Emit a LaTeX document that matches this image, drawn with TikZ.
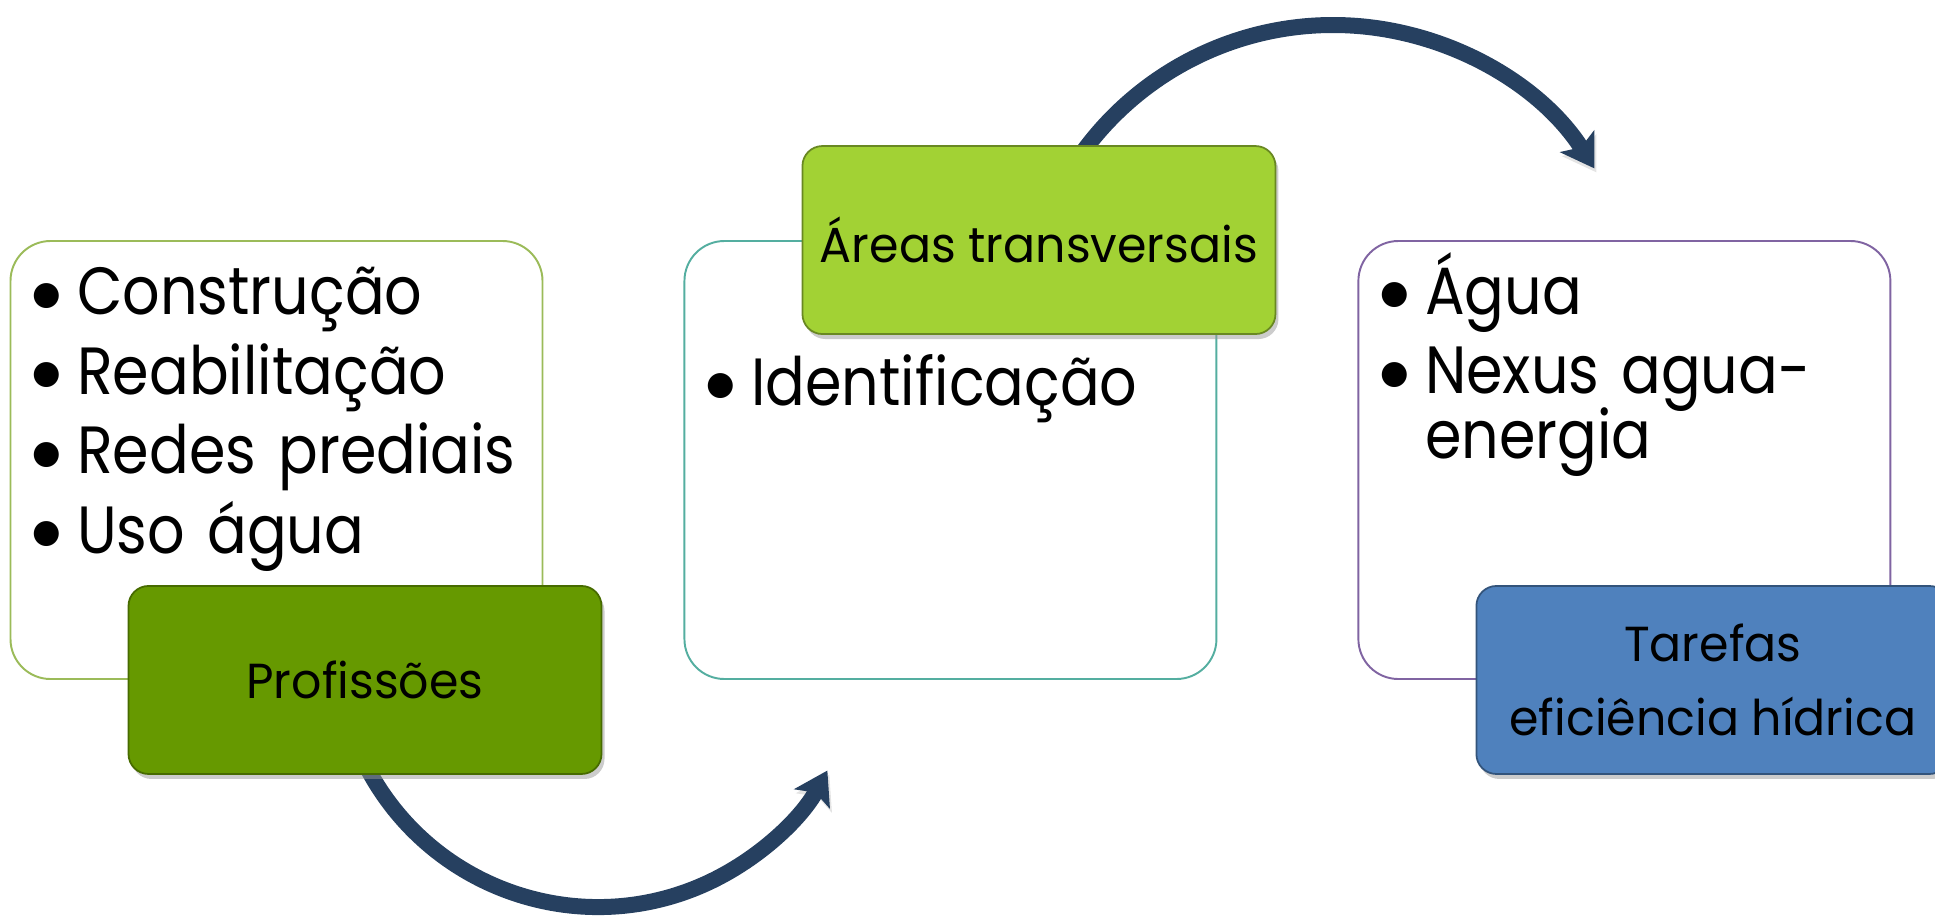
\documentclass[tikz,border=0pt]{standalone}
\usepackage{fontspec}
\setmainfont{Poppins}
\newfontfamily\itemfont[FakeStretch=0.88]{Poppins}
\newfontfamily\tagfont[FakeStretch=0.965]{Poppins}
\newfontfamily\dotfont{DejaVu Sans}
\usepackage{tikz}
\usetikzlibrary{positioning,arrows.meta,shadows}

\definecolor{lineGreen}{RGB}{155,187,89}
\definecolor{lineTeal}{RGB}{84,174,160}
\definecolor{linePurple}{RGB}{128,100,162}
\definecolor{tagOlive}{RGB}{102,153,0}
\definecolor{tagLime}{RGB}{162,210,52}
\definecolor{tagBlue}{RGB}{79,129,189}
\definecolor{arrowNavy}{RGB}{38,64,96}

\newcommand{\pitem}[1]{\noindent\llap{\makebox[0.60cm]{\raisebox{2.9pt}{\dotfont\fontsize{9.3}{9.3}\selectfont ●}}}#1\par}

\begin{document}
\begin{tikzpicture}[
    listbox/.style={draw, line width=0.55pt, fill=white, rounded corners=0.4cm,
        minimum width=5.32cm, minimum height=4.38cm, inner sep=0pt},
    tagbox/.style={line width=0.5pt, rounded corners=0.2cm, inner sep=0pt,
        minimum width=4.73cm, minimum height=1.88cm, align=center,
        font=\tagfont\fontsize{14}{21}\selectfont,
        drop shadow={shadow xshift=0.03cm, shadow yshift=-0.05cm, fill=black!40, opacity=0.5}},
    items/.style={anchor=base west, inner sep=0pt, text width=4.6cm, align=left,
        font=\itemfont\fontsize{19}{18.5}\selectfont,
        execute at begin node={\setlength{\parskip}{4.1pt}\lineskiplimit=-10pt}},
    loop arrow/.style={draw=arrowNavy, line width=0.16cm,
        -{Stealth[length=0.32cm, width=0.40cm, inset=0.07cm]},
        preaction={draw=black!30, opacity=0.35,
            transform canvas={xshift=0.02cm, yshift=-0.04cm}}}
]
\useasboundingbox (0,0) rectangle (19.35,-9.18);
\clip (0,0) rectangle (19.35,-9.18);

% 箭头
\coordinate (o1) at (5.98,-6.46);
\coordinate (o2) at (13.33,-3.35);
\draw[loop arrow] ([shift={(207:2.61)}]o1) arc[start angle=207, end angle=331.5, radius=2.61];
\draw[loop arrow] ([shift={(145:3.10)}]o2) arc[start angle=145, end angle=32.5, radius=3.10];

% 三个框
\node[listbox, draw=lineGreen] (b1) at (2.765,-4.60) {};
\node[listbox, draw=lineTeal, right=1.4cm of b1] (b2) {};
\node[listbox, draw=linePurple, right=1.4cm of b2] (b3) {};

% 列表
\node[items] (l1) at ([shift={(0.67,-0.747)}]b1.north west) {%
    \pitem{Construção}
    \pitem{Reabilitação}
    \pitem{Redes prediais}
    \pitem{Uso água}};
\node[items] (l2) at ([shift={(0.67,-1.65)}]b2.north west) {%
    \pitem{Identificação}};
\node[items] (l3) at ([shift={(0.67,-0.74)}]b3.north west) {%
    \pitem{Água}
    \pitem{Nexus agua-\newline energia}};

% 标签
\node[tagbox, fill=tagOlive, draw=tagOlive!70!black] (prof) at ([xshift=0.885cm]b1.south) {Profissões};
\node[tagbox, fill=tagLime, draw=tagLime!65!black] (areas) at ([xshift=0.885cm]b2.north) {Áreas transversais};
\node[tagbox, fill=tagBlue, draw=tagBlue!65!black] (tarefas) at ([xshift=0.885cm]b3.south) {Tarefas\\eficiência hídrica};
\end{tikzpicture}
\end{document}
